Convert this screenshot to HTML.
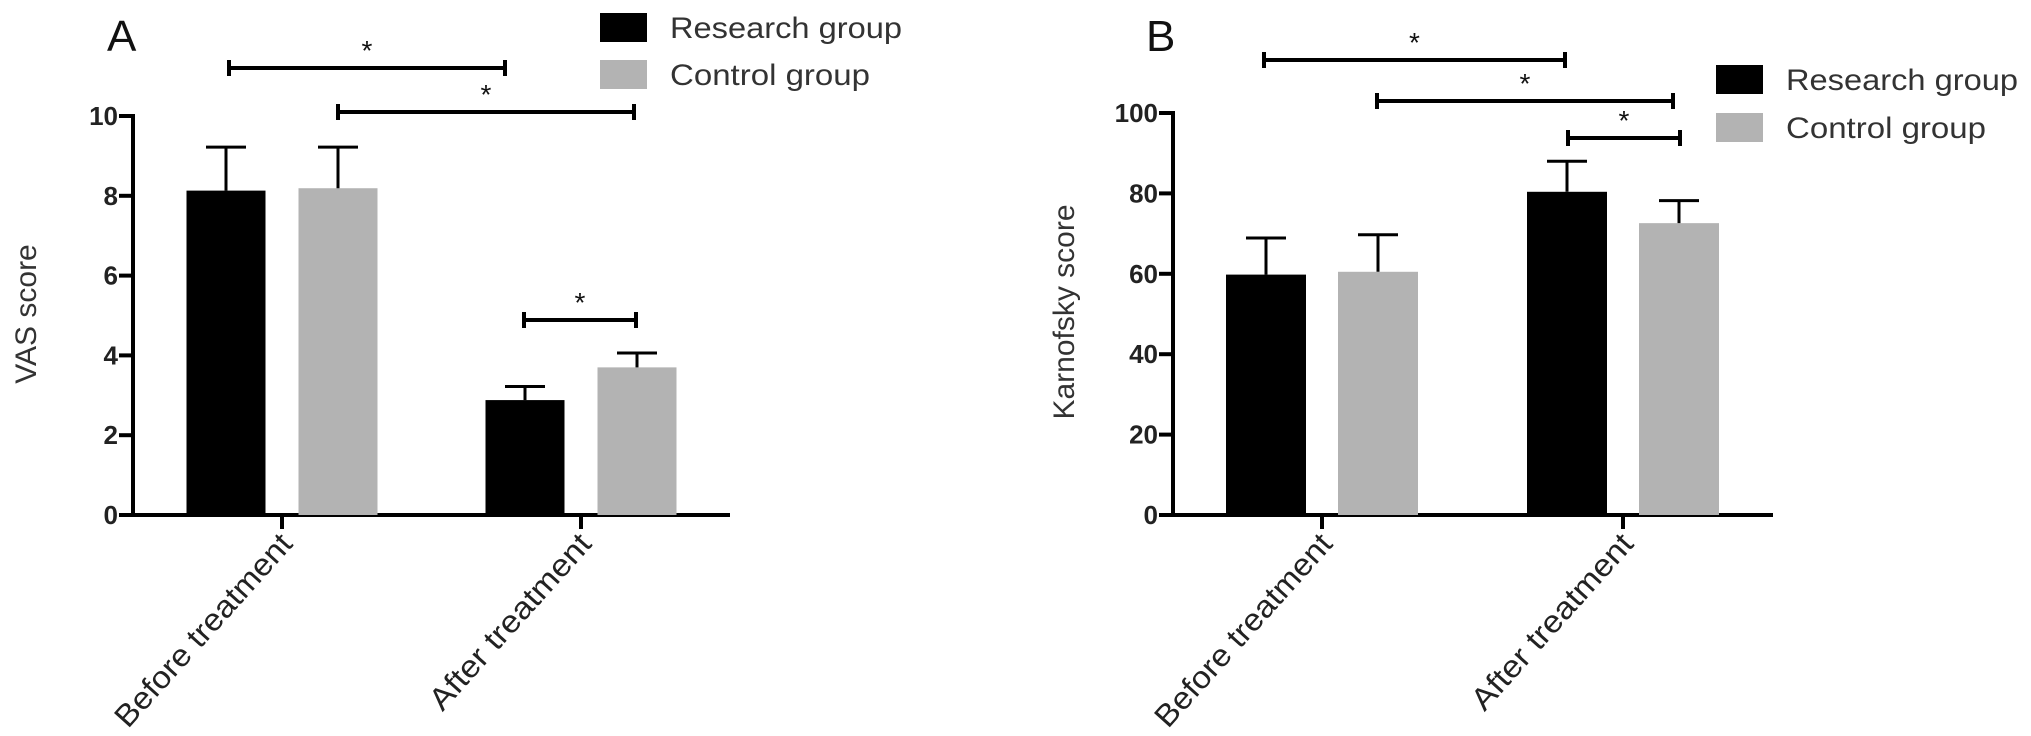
<!DOCTYPE html>
<html><head><meta charset="utf-8"><style>
html,body{margin:0;padding:0;background:#fff;overflow:hidden;}
svg{display:block;font-family:"Liberation Sans",Arial,sans-serif;}
</style></head><body>
<svg id="chart" width="2031" height="736" viewBox="0 0 2031 736"></svg>
<script>
const categories = ["Before treatment", "After treatment"];
const seriesNames = ["Research group", "Control group"];
const vasResearch = [8.13, 2.88];
const vasResearchErr = [1.09, 0.34];
const vasControl = [8.19, 3.70];
const vasControlErr = [1.03, 0.36];
const vasTicks = [0, 2, 4, 6, 8, 10];
const kpsResearch = [59.8, 80.4];
const kpsResearchErr = [9.1, 7.6];
const kpsControl = [60.5, 72.6];
const kpsControlErr = [9.2, 5.6];
const kpsTicks = [0, 20, 40, 60, 80, 100];

const NS = "http://www.w3.org/2000/svg";
const svg = document.getElementById("chart");
function el(tag, attrs, parent, text) {
  const e = document.createElementNS(NS, tag);
  for (const k in attrs) e.setAttribute(k, attrs[k]);
  if (text !== undefined) e.textContent = text;
  (parent || svg).appendChild(e);
  return e;
}

function panel(cfg) {
  const g = el("g", {});
  
  
  const y = v => cfg.y0 - (v / cfg.max) * (cfg.y0 - cfg.yTop);
  const L = el("text", {x: cfg.letterX, y: 51, "font-size": 44, fill: "#111"}, g, cfg.letter);
  
  
  const ax = el("line", {x1: cfg.ax, y1: cfg.yTop - 2, x2: cfg.ax, y2: cfg.y0 + 2, stroke: "#000", "stroke-width": 4}, g);
  
  
  cfg.ticks.forEach(t => {
    const tl = el("line", {x1: cfg.ax - 14, y1: y(t), x2: cfg.ax, y2: y(t), stroke: "#000", "stroke-width": 4}, g);
    
    
    const tx = el("text", {x: cfg.ax - 15, y: y(t) + 9, "font-size": 26, "font-weight": "bold", "text-anchor": "end", fill: "#222"}, g, String(t));
    
    
  });
  const yt = el("text", {x: 0, y: 0, "font-size": 30, fill: "#333", "text-anchor": "middle", transform: `translate(${cfg.titleX},${cfg.titleY}) rotate(-90)`}, g, cfg.title);
  
  
  const xa = el("line", {x1: cfg.ax - 2, y1: cfg.y0, x2: cfg.axEnd, y2: cfg.y0, stroke: "#000", "stroke-width": 4}, g);
  
  
  categories.forEach((c, i) => {
    const cx = cfg.cat[i];
    const tk = el("line", {x1: cx, y1: cfg.y0, x2: cx, y2: cfg.y0 + 14, stroke: "#000", "stroke-width": 4}, g);
    
    
    const lb = el("text", {x: 0, y: 0, "font-size": 31, fill: "#222", "text-anchor": "end", textLength: i ? 225 : 248, lengthAdjust: "spacingAndGlyphs", transform: `translate(${cx + 12},${cfg.y0 + 30}) rotate(-48)`}, g, c);
    
    
    const series = [[cfg.r, cfg.re, "#000", -1], [cfg.c, cfg.ce, "#b3b3b3", 1]];
    series.forEach((s, si) => {
      const v = s[0][i], e = s[1][i];
      const bx = cx + s[3] * cfg.off - cfg.bw / 2;
      const r = el("rect", {x: bx, y: y(v), width: cfg.bw, height: cfg.y0 - y(v), fill: s[2]}, g);
      
      
      const mx = bx + cfg.bw / 2;
      const eb = el("path", {d: `M${mx},${y(v)} V${y(v + e)} M${mx - 20},${y(v + e)} H${mx + 20}`, stroke: "#000", "stroke-width": 3, fill: "none"}, g);
      
      
    });
  });
  cfg.brackets.forEach(b => {
    const p = el("path", {d: `M${b[0]},${b[2]} H${b[1]} M${b[0]},${b[2] - 8} V${b[2] + 8} M${b[1]},${b[2] - 8} V${b[2] + 8}`, stroke: "#000", "stroke-width": 4, fill: "none"}, g);
    
    
    const s = el("text", {x: (b[0] + b[1]) / 2, y: b[2] - 8, "font-size": 28, "text-anchor": "middle", fill: "#111"}, g, "*");
    
    
  });
  const cols = ["#000", "#b3b3b3"];
  seriesNames.forEach((n, i) => {
    const ly = cfg.legY[i];
    const r = el("rect", {x: cfg.legX, y: ly, width: 47, height: 29, fill: cols[i]}, g);
    
    
    const t = el("text", {x: cfg.legX + 70, y: ly + 25, "font-size": 30, fill: "#333", textLength: i ? 200 : 232, lengthAdjust: "spacingAndGlyphs"}, g, n);
    
    
  });
}

panel({name: "panel-a-vas", letter: "A", letterX: 107, ax: 133, axEnd: 730, y0: 515, yTop: 116, max: 10,
  ticks: vasTicks, title: "VAS score", titleX: 36, titleY: 314, cat: [282, 581], off: 56, bw: 79,
  r: vasResearch, re: vasResearchErr, c: vasControl, ce: vasControlErr,
  brackets: [[229, 505, 68], [338, 634, 112], [524, 636, 320]],
  legX: 600, legY: [13, 60]});
panel({name: "panel-b-karnofsky", letter: "B", letterX: 1146, ax: 1173, axEnd: 1773, y0: 515, yTop: 113, max: 100,
  ticks: kpsTicks, title: "Karnofsky score", titleX: 1074, titleY: 312, cat: [1322, 1623], off: 56, bw: 80,
  r: kpsResearch, re: kpsResearchErr, c: kpsControl, ce: kpsControlErr,
  brackets: [[1264, 1565, 60], [1377, 1673, 101], [1568, 1680, 138]],
  legX: 1716, legY: [65, 113]});
</script>
</body></html>
